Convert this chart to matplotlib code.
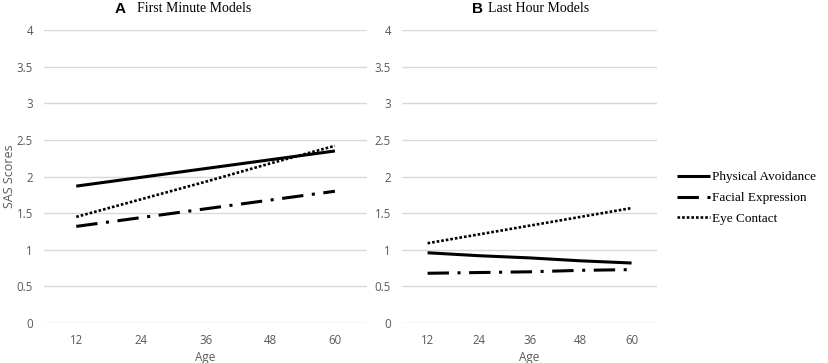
import matplotlib
matplotlib.use("Agg")
import matplotlib.pyplot as plt
from matplotlib.lines import Line2D

# data
ages = [12, 24, 36, 48, 60]

first_physical = [1.87, 1.99, 2.11, 2.23, 2.35]
first_facial = [1.32, 1.44, 1.56, 1.68, 1.80]
first_eye = [1.45, 1.69, 1.93, 2.18, 2.42]

last_physical = [0.96, 0.92, 0.89, 0.85, 0.82]
last_facial = [0.68, 0.69, 0.70, 0.72, 0.73]
last_eye = [1.09, 1.21, 1.33, 1.45, 1.57]

series_names = ["Physical Avoidance", "Facial Expression", "Eye Contact"]
yticks = [0, 0.5, 1, 1.5, 2, 2.5, 3, 3.5, 4]

gray = "#595959"
grid_col = "#d9d9d9"

styles = [
    dict(linestyle="-", linewidth=2.2, solid_capstyle="butt"),
    dict(linestyle=(0, (7, 2.8, 1, 2.8)), linewidth=2.2),
    dict(linestyle=(0, (1, 0.75)), linewidth=1.9),
]


def draw_panel(ax, data):
    xs = list(range(len(ages)))
    for ys, st in zip(data, styles):
        ax.plot(xs, ys, color="black", **st)
    ax.set_xlim(-0.5, len(ages) - 0.5)
    ax.set_ylim(0, 4)
    ax.set_yticks(yticks)
    ax.set_yticklabels([f"{t:g}" for t in yticks])
    ax.set_xticks(xs)
    ax.set_xticklabels([str(a) for a in ages])
    ax.grid(axis="y", color=grid_col, linewidth=1)
    ax.set_axisbelow(True)
    for s in ax.spines.values():
        s.set_visible(False)
    ax.tick_params(length=0, labelsize=8.3, labelcolor=gray, pad=8)
    for lab in ax.get_xticklabels() + ax.get_yticklabels():
        lab.set_family("Open Sans")
    ax.set_xlabel("Age", fontsize=8.5, color=gray, family="Open Sans", labelpad=3)


fig = plt.figure(figsize=(8.29, 3.63), dpi=100)
ax1 = fig.add_axes([0.053, 0.11, 0.390, 0.807])
ax2 = fig.add_axes([0.485, 0.11, 0.3076, 0.807])

draw_panel(ax1, [first_physical, first_facial, first_eye])
draw_panel(ax2, [last_physical, last_facial, last_eye])

ax1.set_ylabel("SAS Scores", fontsize=9, color=gray, family="Open Sans")
ax1.yaxis.set_label_coords(-0.085, 0.5)

fig.text(115 / 829, 1 - 9 / 363, "A", fontsize=11, fontweight="bold",
         family="Liberation Sans", ha="left", va="center")
fig.text(137 / 829, 1 - 9 / 363, "First Minute Models", fontsize=10,
         family="Liberation Serif", ha="left", va="center")
fig.text(472 / 829, 1 - 9 / 363, "B", fontsize=11, fontweight="bold",
         family="Liberation Sans", ha="left", va="center")
fig.text(488 / 829, 1 - 9 / 363, "Last Hour Models", fontsize=10,
         family="Liberation Serif", ha="left", va="center")

handles = [Line2D([0], [0], color="black", **st) for st in styles]
fig.legend(handles, series_names, loc="upper left",
           bbox_to_anchor=(668 / 829, 1 - 162 / 363), frameon=False,
           prop={"family": "Liberation Serif", "size": 9.5},
           handlelength=2.5, handletextpad=0.1, labelspacing=0.65,
           borderpad=0.2)

fig.savefig("out.png", dpi=100)
